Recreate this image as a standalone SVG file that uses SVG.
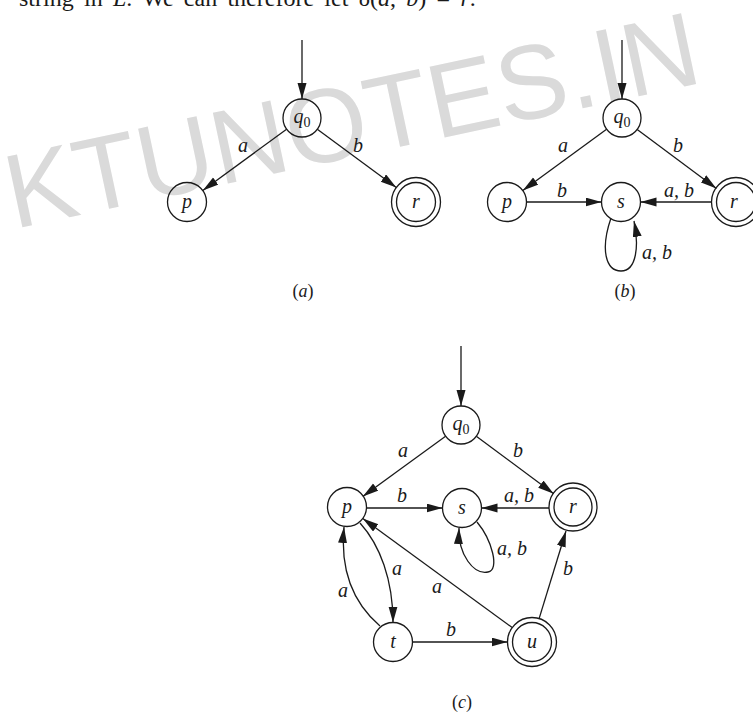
<svg xmlns="http://www.w3.org/2000/svg" width="753" height="713" viewBox="0 0 753 713">
<defs>
<marker id="arr" markerUnits="userSpaceOnUse" markerWidth="17" markerHeight="10" refX="16" refY="4.5" orient="auto">
<path d="M0,0 L16,4.5 L0,9 z" fill="#1a1a1a"/>
</marker>
<style>
.nd{fill:none;stroke:#1a1a1a;stroke-width:1.3}
.ed{fill:none;stroke:#1a1a1a;stroke-width:1.3;marker-end:url(#arr)}
.lb{font-family:"Liberation Serif",serif;font-style:italic;font-size:20px;fill:#1a1a1a;text-anchor:middle}
.cap{font-family:"Liberation Serif",serif;font-size:18px;fill:#1a1a1a;text-anchor:middle}
.sub{font-style:normal;font-size:14px}
.wm{font-family:"Liberation Sans",Arial,sans-serif;font-size:105px;fill:#dadada}
.top{font-family:"Liberation Serif",serif;font-size:24px;fill:#1a1a1a;word-spacing:4.3px}
</style>
</defs>
<rect width="753" height="713" fill="#ffffff"/>
<text class="wm" x="14" y="229" transform="rotate(-12 14 229)">KTUNOTES.IN</text>
<text class="top" x="19" y="6">string in <tspan font-style="italic">L</tspan>. We can therefore let δ(<tspan font-style="italic">a</tspan>, <tspan font-style="italic">b</tspan>) = <tspan font-style="italic">r</tspan>.</text>

<g id="connectors">
<!-- (a) -->
<path class="ed" d="M302,40 L302,99"/>
<path class="ed" d="M286.6,129.2 L202.8,190.5"/>
<path class="ed" d="M317.3,129.3 L396.3,187.5"/>
<!-- (b) -->
<path class="ed" d="M622,40 L622,99"/>
<path class="ed" d="M606.6,129.2 L522.8,190.5"/>
<path class="ed" d="M637.2,129.4 L716.4,188.4"/>
<path class="ed" d="M526.5,202 L601.5,202"/>
<path class="ed" d="M711.5,202 L640.5,202"/>
<path class="ed" d="M611,218 C600,250 606,271 621,271 C637,271 639,245 634,221"/>
<!-- (c) -->
<path class="ed" d="M461,346 L461,406"/>
<path class="ed" d="M445.6,436.2 L362.8,496.5"/>
<path class="ed" d="M476.3,436.3 L553.7,493.7"/>
<path class="ed" d="M366.5,508 L442.5,508"/>
<path class="ed" d="M549,508 L481.5,508"/>
<path class="ed" d="M477,522 C492,540 500,570 488,572 C474,575 458,555 459,528"/>
<path class="ed" d="M360,523 C380,545 393,580 393,622.5"/>
<path class="ed" d="M380,626 C352,602 340,570 344,527"/>
<path class="ed" d="M512.2,627.6 L362.8,518.5"/>
<path class="ed" d="M539.1,618.6 L566,531"/>
<path class="ed" d="M412.5,642 L507.5,642"/>
</g>

<g id="edge-labels">
<text class="lb" x="243" y="152">a</text>
<text class="lb" x="358" y="152">b</text>
<text class="lb" x="563" y="152">a</text>
<text class="lb" x="678" y="152">b</text>
<text class="lb" x="562" y="197">b</text>
<text class="lb" x="679" y="197">a, b</text>
<text class="lb" x="657" y="259">a, b</text>
<text class="lb" x="403" y="457">a</text>
<text class="lb" x="518" y="457">b</text>
<text class="lb" x="402" y="502">b</text>
<text class="lb" x="519" y="502">a, b</text>
<text class="lb" x="512" y="555">a, b</text>
<text class="lb" x="397" y="575">a</text>
<text class="lb" x="343" y="597">a</text>
<text class="lb" x="437" y="593">a</text>
<text class="lb" x="568" y="575">b</text>
<text class="lb" x="451" y="636">b</text>
</g>

<!-- (a) nodes -->
<g id="a-q0"><circle class="nd" cx="302" cy="118" r="19"/><text class="lb" x="302" y="123">q<tspan class="sub" dy="4">0</tspan></text></g>
<g id="a-p"><circle class="nd" cx="187" cy="202" r="19.5"/><text class="lb" x="187" y="208">p</text></g>
<g id="a-r"><circle class="nd" cx="416" cy="202" r="24.5"/><circle class="nd" cx="416" cy="202" r="19.5"/><text class="lb" x="416" y="208">r</text></g>

<!-- (b) nodes -->
<g id="b-q0"><circle class="nd" cx="622" cy="118" r="19"/><text class="lb" x="622" y="123">q<tspan class="sub" dy="4">0</tspan></text></g>
<g id="b-p"><circle class="nd" cx="507" cy="202" r="19.5"/><text class="lb" x="507" y="208">p</text></g>
<g id="b-s"><circle class="nd" cx="621" cy="202" r="19.5"/><text class="lb" x="621" y="208">s</text></g>
<g id="b-r"><circle class="nd" cx="736" cy="202" r="24.5"/><circle class="nd" cx="736" cy="202" r="19.5"/><text class="lb" x="734" y="208">r</text></g>

<!-- (c) nodes -->
<g id="c-q0"><circle class="nd" cx="461" cy="425" r="19"/><text class="lb" x="461" y="430">q<tspan class="sub" dy="4">0</tspan></text></g>
<g id="c-p"><circle class="nd" cx="347" cy="507" r="19.5"/><text class="lb" x="347" y="513">p</text></g>
<g id="c-s"><circle class="nd" cx="462" cy="508" r="19.5"/><text class="lb" x="462" y="514">s</text></g>
<g id="c-r"><circle class="nd" cx="573" cy="507" r="24"/><circle class="nd" cx="573" cy="507" r="19"/><text class="lb" x="573" y="513">r</text></g>
<g id="c-t"><circle class="nd" cx="393" cy="642" r="19.5"/><text class="lb" x="393" y="648">t</text></g>
<g id="c-u"><circle class="nd" cx="532" cy="642" r="24.5"/><circle class="nd" cx="532" cy="642" r="19.5"/><text class="lb" x="532" y="648">u</text></g>

<g id="captions">
<text class="cap" x="303" y="297">(<tspan font-style="italic">a</tspan>)</text>
<text class="cap" x="625" y="297">(<tspan font-style="italic">b</tspan>)</text>
<text class="cap" x="462" y="708">(<tspan font-style="italic">c</tspan>)</text>
</g>
</svg>
